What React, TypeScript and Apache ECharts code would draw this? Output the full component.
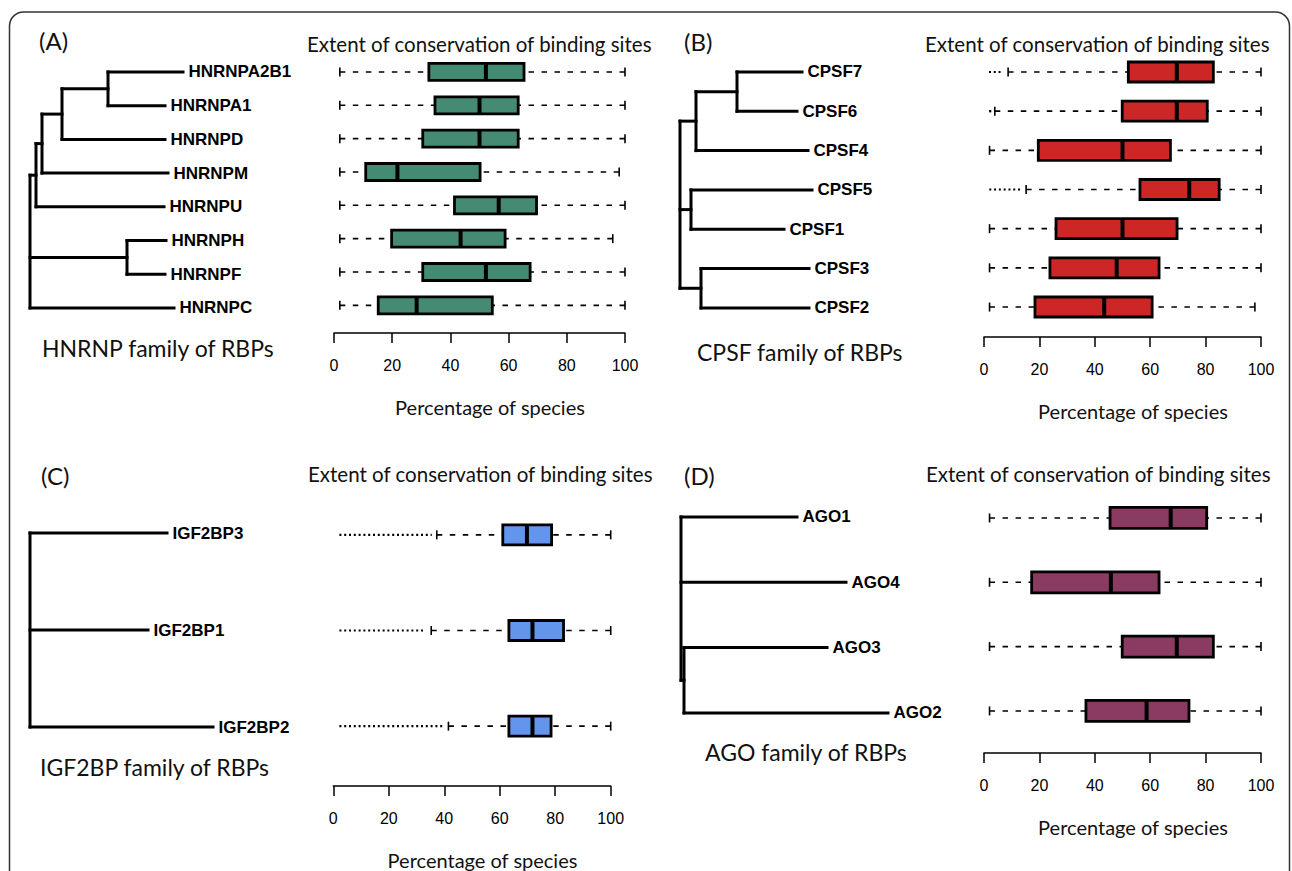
import React, { useEffect, useRef } from "react";
import * as echarts from "echarts";

// ---------- DATA ----------
// Panel A: HNRNP family
const namesA = ["HNRNPA2B1", "HNRNPA1", "HNRNPD", "HNRNPM", "HNRNPU", "HNRNPH", "HNRNPF", "HNRNPC"];
const whiskLoA = [2, 2, 2, 2, 2, 2, 2, 2];
const q1A = [32.6, 34.7, 30.5, 10.9, 41.4, 19.8, 30.5, 15.2];
const medA = [52.2, 50, 50, 21.8, 56.6, 43.5, 52.2, 28.4];
const q3A = [65.3, 63.3, 63.3, 50.2, 69.6, 58.8, 67.4, 54.4];
const whiskHiA = [100, 100, 100, 98, 100, 95.8, 100, 100];
const outLoA: (number | null)[] = [null, null, null, null, null, null, null, null];
const outHiA: (number | null)[] = [null, null, null, null, null, null, null, null];
const leafEndA = [153, 135, 135, 138, 134, 136, 135, 144];
const treeA = { x: 0, kids: [{ x: 6, kids: [{ x: 12, kids: [{ x: 32, kids: [{ x: 78, kids: [0, 1] }, 2] }, 3] }, 4] }, { x: 97, kids: [5, 6] }, 7] };

// Panel B: CPSF family
const namesB = ["CPSF7", "CPSF6", "CPSF4", "CPSF5", "CPSF1", "CPSF3", "CPSF2"];
const whiskLoB = [8.7, 3.9, 2, 15.2, 2, 2, 2];
const q1B = [52.1, 49.9, 19.6, 56.3, 26, 23.8, 18.4];
const medB = [69.6, 69.6, 50, 74.1, 50, 47.9, 43.4];
const q3B = [82.8, 80.6, 67.3, 84.9, 69.7, 63.2, 60.7];
const whiskHiB = [100, 100, 100, 100, 100, 100, 97.8];
const outLoB: (number | null)[] = [1.8, 2.2, null, 1.9, null, null, null];
const outHiB: (number | null)[] = [6.9, 2.2, null, 13.6, null, null, null];
const leafEndB = [122, 117, 128, 132, 104, 129, 129];
const treeB = { x: 0, kids: [{ x: 16, kids: [{ x: 57, kids: [0, 1] }, 2] }, { x: 11, kids: [3, 4] }, { x: 21, kids: [5, 6] }] };

// Panel C: IGF2BP family
const namesC = ["IGF2BP3", "IGF2BP1", "IGF2BP2"];
const whiskLoC = [37.3, 35.3, 41.5];
const q1C = [61.1, 63.3, 63.3];
const medC = [69.8, 71.8, 71.8];
const q3C = [78.7, 83, 78.5];
const whiskHiC = [100, 100, 100];
const outLoC: (number | null)[] = [2.2, 2.2, 2.2];
const outHiC: (number | null)[] = [35.5, 33.1, 39.7];
const leafEndC = [137, 118, 183];
const treeC = { x: 0, kids: [0, 1, 2] };

// Panel D: AGO family
const namesD = ["AGO1", "AGO4", "AGO3", "AGO2"];
const whiskLoD = [2, 2, 2, 2];
const q1D = [45.5, 17.2, 49.9, 36.8];
const medD = [67.4, 45.8, 69.6, 58.7];
const q3D = [80.4, 63.2, 82.8, 74];
const whiskHiD = [100, 100, 100, 100];
const outLoD: (number | null)[] = [null, null, null, null];
const outHiD: (number | null)[] = [null, null, null, null];
const leafEndD = [116, 165, 146, 207];
const treeD = { x: 0, kids: [0, 1, { x: 3, kids: [2, 3] }] };

const xTicks = [0, 20, 40, 60, 80, 100];

// ---------- STYLE / LAYOUT ----------
const SANS = "Lato";
const ARIAL = '"Liberation Sans", Arial, sans-serif';

type Panel = {
  names: string[]; wl: number[]; q1: number[]; med: number[]; q3: number[]; wh: number[];
  ol: (number | null)[]; oh: (number | null)[]; leafEnd: number[]; tree: any;
  color: string; boxH: number;
  box: { left: number; top: number; width: number; height: number; offset: number };
  treeGrid: { left: number; top: number; height: number };
  title: { left: number; top: number };
  letter: { text: string; x: number; y: number };
  family: { text: string; x: number; y: number };
};

const panels: Panel[] = [
  {
    names: namesA, wl: whiskLoA, q1: q1A, med: medA, q3: q3A, wh: whiskHiA, ol: outLoA, oh: outHiA,
    leafEnd: leafEndA, tree: treeA, color: "#458B74", boxH: 17,
    box: { left: 334, top: 55.3, width: 291, height: 266.7, offset: 11 },
    treeGrid: { left: 30, top: 55.1, height: 269.7 },
    title: { left: 307, top: 33 },
    letter: { text: "(A)", x: 39, y: 40 },
    family: { text: "HNRNP family of RBPs", x: 42, y: 348 },
  },
  {
    names: namesB, wl: whiskLoB, q1: q1B, med: medB, q3: q3B, wh: whiskHiB, ol: outLoB, oh: outHiB,
    leafEnd: leafEndB, tree: treeB, color: "#CD2626", boxH: 20,
    box: { left: 984, top: 52.4, width: 277, height: 274.2, offset: 10.4 },
    treeGrid: { left: 680, top: 52.3, height: 275.3 },
    title: { left: 925, top: 33 },
    letter: { text: "(B)", x: 684, y: 41 },
    family: { text: "CPSF family of RBPs", x: 697, y: 352 },
  },
  {
    names: namesC, wl: whiskLoC, q1: q1C, med: medC, q3: q3C, wh: whiskHiC, ol: outLoC, oh: outHiC,
    leafEnd: leafEndC, tree: treeC, color: "#6495ED", boxH: 20,
    box: { left: 333.3, top: 487, width: 277.4, height: 288, offset: 12 },
    treeGrid: { left: 30, top: 484.5, height: 291 },
    title: { left: 308, top: 463 },
    letter: { text: "(C)", x: 41, y: 475 },
    family: { text: "IGF2BP family of RBPs", x: 40, y: 767 },
  },
  {
    names: namesD, wl: whiskLoD, q1: q1D, med: medD, q3: q3D, wh: whiskHiD, ol: outLoD, oh: outHiD,
    leafEnd: leafEndD, tree: treeD, color: "#8B3A62", boxH: 21,
    box: { left: 984, top: 485.8, width: 277, height: 257.3, offset: 10 },
    treeGrid: { left: 681, top: 484.3, height: 261.3 },
    title: { left: 926, top: 463 },
    letter: { text: "(D)", x: 684, y: 475 },
    family: { text: "AGO family of RBPs", x: 705, y: 752 },
  },
];

function treeSegments(node: any, leafEnd: number[], parentX: number | null, out: number[][]): number {
  if (typeof node === "number") {
    out.push([parentX as number, node, leafEnd[node], node]);
    return node;
  }
  const ys = node.kids.map((k: any) => treeSegments(k, leafEnd, node.x, out));
  const y0 = ys[0];
  const y1 = ys[ys.length - 1];
  out.push([node.x, y0, node.x, y1]);
  const y = (y0 + y1) / 2;
  if (parentX !== null) out.push([parentX, y, node.x, y]);
  return y;
}

function buildOption() {
  const grid: any[] = [];
  const xAxis: any[] = [];
  const yAxis: any[] = [];
  const series: any[] = [];
  const title: any[] = [];
  const graphic: any[] = [
    {
      type: "rect",
      shape: { x: 9.5, y: 12, width: 1280, height: 900, r: 14 },
      style: { fill: "none", stroke: "#333", lineWidth: 1.5 },
      silent: true,
    },
  ];

  panels.forEach((p, k) => {
    const gBox = k * 2;
    const gTree = k * 2 + 1;
    const n = p.names.length;
    grid.push({ left: p.box.left, top: p.box.top, width: p.box.width, height: p.box.height });
    grid.push({ left: p.treeGrid.left, top: p.treeGrid.top, width: 250, height: p.treeGrid.height });

    xAxis.push({
      gridIndex: gBox, type: "value", min: xTicks[0], max: xTicks[xTicks.length - 1], interval: 20,
      position: "bottom", offset: p.box.offset,
      axisLine: { show: true, lineStyle: { color: "#000", width: 1.5 } },
      axisTick: { show: true, length: 10, lineStyle: { color: "#000", width: 1.5 } },
      axisLabel: { color: "#000", fontSize: 16, fontFamily: ARIAL, margin: 24 },
      splitLine: { show: false },
      name: "Percentage of species", nameLocation: "middle", nameGap: 64,
      nameTextStyle: { fontFamily: SANS, fontSize: 20, color: "#111", padding: [0, 0, 0, 21] },
    });
    xAxis.push({ gridIndex: gTree, type: "value", min: 0, max: 250, show: false });

    yAxis.push({ gridIndex: gBox, type: "category", data: p.names, inverse: true, show: false });
    yAxis.push({ gridIndex: gTree, type: "value", min: -0.5, max: n - 0.5, inverse: true, show: false });

    // boxplots
    series.push({
      type: "custom",
      xAxisIndex: gBox,
      yAxisIndex: gBox,
      encode: { x: [1, 2, 3, 4], y: 0 },
      data: p.names.map((_, i) => [i, p.wl[i], p.q1[i], p.q3[i], p.wh[i]]),
      renderItem: (params: any, api: any) => {
        const i = params.dataIndex;
        const c = (v: number) => api.coord([v, i]);
        const y = c(p.med[i])[1];
        const h = p.boxH;
        const cap = 9;
        const xWl = c(p.wl[i])[0];
        const xQ1 = c(p.q1[i])[0];
        const xMed = c(p.med[i])[0];
        const xQ3 = c(p.q3[i])[0];
        const xWh = c(p.wh[i])[0];
        const children: any[] = [];
        const dash = { stroke: "#000", lineWidth: 1.6, lineDash: [5.5, 7.5] };
        children.push({ type: "line", shape: { x1: xWl, y1: y, x2: xQ1, y2: y }, style: dash });
        children.push({ type: "line", shape: { x1: xWh, y1: y, x2: xQ3, y2: y }, style: dash });
        children.push({ type: "line", shape: { x1: xWl, y1: y - cap / 2, x2: xWl, y2: y + cap / 2 }, style: { stroke: "#000", lineWidth: 1.6 } });
        children.push({ type: "line", shape: { x1: xWh, y1: y - cap / 2, x2: xWh, y2: y + cap / 2 }, style: { stroke: "#000", lineWidth: 1.6 } });
        const ol = p.ol[i];
        const oh = p.oh[i];
        if (ol !== null && oh !== null) {
          const xa = c(ol)[0];
          const xb = c(oh)[0];
          if (xb - xa < 2) {
            children.push({ type: "rect", shape: { x: xa - 1, y: y - 1.2, width: 2.2, height: 2.4 }, style: { fill: "#000" } });
          } else {
            children.push({ type: "line", shape: { x1: xa, y1: y, x2: xb, y2: y }, style: { stroke: "#000", lineWidth: 2.2, lineDash: [2, 2.8] } });
          }
        }
        children.push({
          type: "rect",
          shape: { x: xQ1, y: y - h / 2, width: xQ3 - xQ1, height: h },
          style: { fill: p.color, stroke: "#000", lineWidth: 2.8 },
        });
        children.push({ type: "line", shape: { x1: xMed, y1: y - h / 2, x2: xMed, y2: y + h / 2 }, style: { stroke: "#000", lineWidth: 4 } });
        return { type: "group", children };
      },
    });

    // dendrogram
    const segs: number[][] = [];
    treeSegments(p.tree, p.leafEnd, null, segs);
    series.push({
      type: "custom",
      xAxisIndex: gTree,
      yAxisIndex: gTree,
      encode: { x: [0, 2], y: [1, 3] },
      data: segs,
      renderItem: (params: any, api: any) => {
        const a = api.coord([api.value(0), api.value(1)]);
        const b = api.coord([api.value(2), api.value(3)]);
        return {
          type: "line",
          shape: { x1: a[0], y1: a[1], x2: b[0], y2: b[1] },
          style: { stroke: "#000", lineWidth: 3, lineCap: "square" },
        };
      },
    });
    // leaf labels
    series.push({
      type: "custom",
      xAxisIndex: gTree,
      yAxisIndex: gTree,
      encode: { x: 0, y: 1 },
      data: p.names.map((nm, i) => [p.leafEnd[i], i, nm]),
      renderItem: (params: any, api: any) => {
        const pt = api.coord([api.value(0), api.value(1)]);
        return {
          type: "text",
          x: pt[0] + 5.5,
          y: pt[1],
          style: {
            text: p.names[params.dataIndex],
            fill: "#000",
            fontFamily: ARIAL,
            fontWeight: "bold",
            fontSize: 17,
            align: "left",
            verticalAlign: "middle",
          },
        };
      },
    });

    title.push({
      text: "Extent of conservation of binding sites",
      left: p.title.left,
      top: p.title.top,
      padding: 0,
      textStyle: { fontFamily: SANS, fontSize: 20.5, fontWeight: "normal", color: "#111" },
    });

    graphic.push({
      type: "text",
      x: p.letter.x,
      y: p.letter.y,
      style: { text: p.letter.text, fill: "#111", fontFamily: SANS, fontSize: 24, verticalAlign: "middle", align: "left" },
    });
    graphic.push({
      type: "text",
      x: p.family.x,
      y: p.family.y,
      style: { text: p.family.text, fill: "#111", fontFamily: SANS, fontSize: 23, verticalAlign: "middle", align: "left" },
    });
  });

  return { animation: false, backgroundColor: "#fff", grid, xAxis, yAxis, series, title, graphic };
}

export default function App() {
  const ref = useRef<HTMLDivElement>(null);
  useEffect(() => {
    if (!ref.current) return;
    const chart = echarts.init(ref.current, undefined, { renderer: "svg" });
    chart.setOption(buildOption() as any);
    return () => chart.dispose();
  }, []);
  return <div ref={ref} style={{ position: "fixed", left: 0, top: 0, width: 1292, height: 871, background: "#fff" }} />;
}
